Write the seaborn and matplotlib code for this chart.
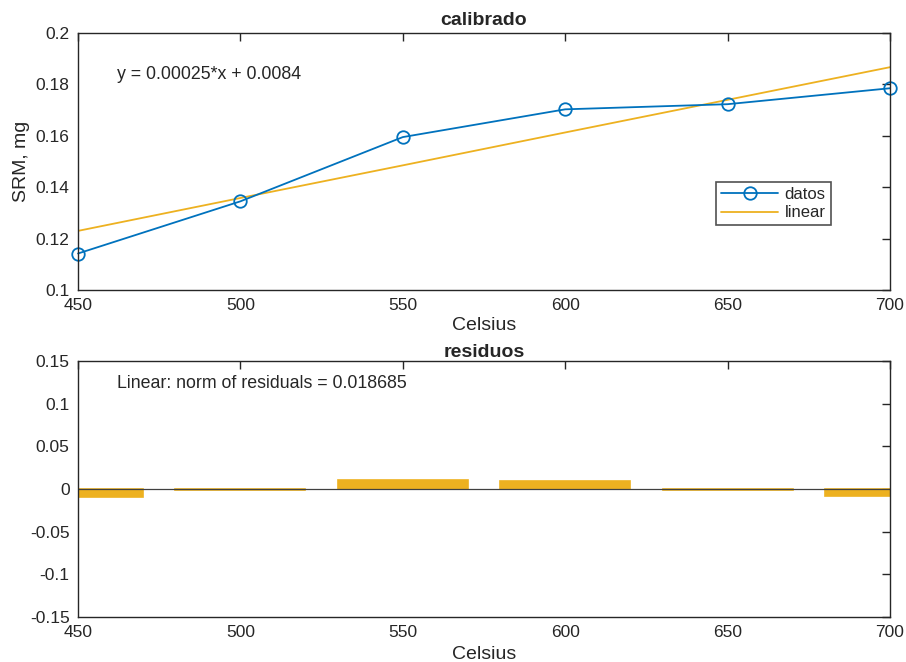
import numpy as np
import pandas as pd
import matplotlib
matplotlib.use("Agg")
import matplotlib.pyplot as plt
import seaborn as sns

# data
celsius = [450, 500, 550, 600, 650, 700]
srm_mg = [0.1142, 0.1345, 0.1595, 0.1703, 0.1723, 0.1785]
linear_fit = [0.1230, 0.1358, 0.1485, 0.1613, 0.1740, 0.1867]
residuals = [-0.0088, -0.0013, 0.0110, 0.0090, -0.0017, -0.0083]

fit_label = "y = 0.00025*x + 0.0084"
norm_label = "Linear: norm of residuals = 0.018685"

blue = "#0072BD"
gold = "#EDB120"
edge = "#262626"

sns.set_style("white")
plt.rcParams["font.family"] = ["Liberation Sans", "DejaVu Sans"]
plt.rcParams["axes.edgecolor"] = edge
plt.rcParams["axes.linewidth"] = 1.0

df = pd.DataFrame({"celsius": celsius, "srm": srm_mg, "fit": linear_fit,
                   "resid": residuals})

fig = plt.figure(figsize=(9.06, 6.62), dpi=100)
ax1 = fig.add_axes([78 / 906, 1 - 290 / 662, 812 / 906, 257 / 662])
ax2 = fig.add_axes([78 / 906, 1 - 617 / 662, 812 / 906, 256 / 662])

# top panel: data + linear fit
sns.lineplot(data=df, x="celsius", y="fit", ax=ax1, color=gold, lw=1.3,
             label="linear")
sns.lineplot(data=df, x="celsius", y="srm", ax=ax1, color=blue, lw=1.3,
             marker="o", markersize=9, markerfacecolor="none",
             markeredgecolor=blue, markeredgewidth=1.3, label="datos",
             clip_on=False)
ax1.set_xlim(450, 700)
ax1.set_ylim(0.1, 0.2)
ax1.set_yticks([0.1, 0.12, 0.14, 0.16, 0.18, 0.2])
ax1.set_yticklabels(["0.1", "0.12", "0.14", "0.16", "0.18", "0.2"])
ax1.set_xlabel("Celsius", fontsize=14, labelpad=3)
ax1.set_ylabel("SRM, mg", fontsize=14, labelpad=4)
ax1.set_title("calibrado", fontsize=14, fontweight="bold", pad=6)
ax1.text(462, 0.1837, fit_label, fontsize=12.8, va="center")
h, l = ax1.get_legend_handles_labels()
leg = ax1.legend(h[::-1], l[::-1], loc="upper left",
                 bbox_to_anchor=(0.786, 0.42), fontsize=12, frameon=True,
                 fancybox=False, handlelength=3.4, borderpad=0.3,
                 labelspacing=0.2, handletextpad=0.4, borderaxespad=0)
leg.get_frame().set_edgecolor(edge)
leg.get_frame().set_linewidth(1.2)

# bottom panel: residual bars
sns.barplot(data=df, x="celsius", y="resid", ax=ax2, native_scale=True,
            color=gold, saturation=1, width=0.8, edgecolor=gold,
            linewidth=1.2)
ax2.axhline(0, color="#404040", lw=0.9)
ax2.set_xlim(450, 700)
ax2.set_ylim(-0.15, 0.15)
ax2.set_yticks([-0.15, -0.1, -0.05, 0, 0.05, 0.1, 0.15])
ax2.set_yticklabels(["-0.15", "-0.1", "-0.05", "0", "0.05", "0.1", "0.15"])
ax2.set_xlabel("Celsius", fontsize=14, labelpad=4)
ax2.set_ylabel("")
ax2.set_title("residuos", fontsize=14, fontweight="bold", pad=3)
ax2.text(462, 0.124, norm_label, fontsize=12.8, va="center")

for ax in (ax1, ax2):
    ax.set_xticks(celsius)
    ax.tick_params(direction="in", top=True, right=True, length=6,
                   width=1, colors=edge, labelsize=12.5, pad=6,
                   labelcolor="#262626")
    for s in ax.spines.values():
        s.set_visible(True)

fig.savefig("out.png", dpi=100)
